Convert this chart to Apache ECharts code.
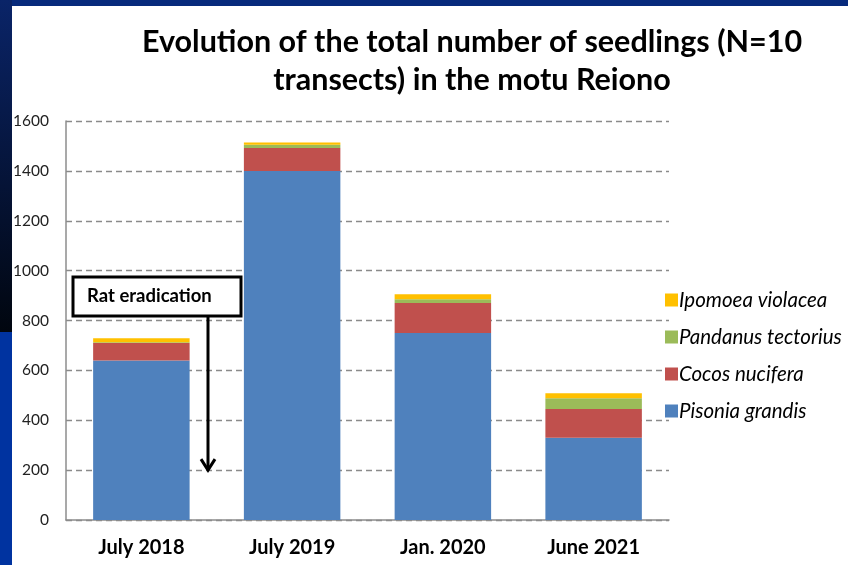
<!DOCTYPE html>
<html>
<head>
<meta charset="utf-8">
<script src="https://cdn.jsdelivr.net/npm/echarts@6/dist/echarts.min.js"></script>
<style>
  html, body { margin: 0; padding: 0; background: #ffffff; }
  #chart { width: 848px; height: 565px; }
</style>
</head>
<body>
<div id="chart"></div>
<script>
// Survey dates
const categories = ['July 2018', 'July 2019', 'Jan. 2020', 'June 2021'];

// Seedling counts per species (sum of 10 transects)
const pisoniaGrandis    = [640, 1400, 750, 330];
const cocosNucifera     = [70, 92, 120, 115];
const pandanusTectorius = [3, 13, 15, 43];
const ipomoeaViolacea   = [16, 9, 20, 20];

// Value axis ticks
const yTicks = [0, 200, 400, 600, 800, 1000, 1200, 1400, 1600];

const FONT = 'Lato, "Open Sans", sans-serif';

const chart = echarts.init(document.getElementById('chart'), null, { renderer: 'canvas' });

function stackSeries(name, data, color) {
  return {
    name: name,
    type: 'bar',
    stack: 'total',
    barWidth: '64%',
    data: data,
    itemStyle: { color: color },
    emphasis: { disabled: true }
  };
}

const option = {
  backgroundColor: '#ffffff',
  animation: false,
  title: {
    text: 'Evolution of the total number of seedlings (N=10\ntransects) in the motu Reiono',
    left: 467,
    top: 18,
    textAlign: 'center',
    textStyle: {
      fontFamily: FONT,
      fontWeight: 'bold',
      fontSize: 30.5,
      lineHeight: 38,
      color: '#000000'
    }
  },
  grid: { left: 66, right: 179, top: 121, bottom: 45, containLabel: false },
  legend: {
    orient: 'vertical',
    left: 660,
    top: 283,
    itemWidth: 13,
    itemHeight: 13,
    itemGap: 13,
    icon: 'rect',
    data: ['Ipomoea violacea', 'Pandanus tectorius', 'Cocos nucifera', 'Pisonia grandis'],
    textStyle: {
      fontFamily: FONT,
      fontStyle: 'italic',
      fontSize: 20.5,
      lineHeight: 24,
      color: '#000000',
      padding: [0, 0, 0, -4]
    }
  },
  xAxis: {
    type: 'category',
    data: categories,
    axisLine: { lineStyle: { color: '#8c8c8c', width: 1.5 } },
    axisTick: { show: false },
    axisLabel: {
      margin: 18,
      fontFamily: FONT,
      fontWeight: 'bold',
      fontSize: 20,
      color: '#000000'
    }
  },
  yAxis: {
    type: 'value',
    min: yTicks[0],
    max: yTicks[yTicks.length - 1],
    interval: yTicks[1] - yTicks[0],
    axisLine: { show: true, lineStyle: { color: '#8c8c8c', width: 1.5 } },
    axisTick: { show: false },
    axisLabel: {
      margin: 17,
      fontFamily: FONT,
      fontSize: 15.5,
      color: '#222222',
      formatter: function (v) { return String(v); }
    },
    splitLine: {
      show: true,
      lineStyle: { color: '#8a8a8a', type: [6, 4], width: 1.3 }
    }
  },
  series: [
    stackSeries('Pisonia grandis', pisoniaGrandis, '#4f81bd'),
    stackSeries('Cocos nucifera', cocosNucifera, '#c0504d'),
    stackSeries('Pandanus tectorius', pandanusTectorius, '#9bbb59'),
    stackSeries('Ipomoea violacea', ipomoeaViolacea, '#ffc000')
  ]
};

chart.setOption(option);

// Slide frame, annotation box and arrow pointing at the eradication date
const arrowX = 208;
const arrowTipY = chart.convertToPixel({ yAxisIndex: 0 }, 200);
const boxTop = 277, boxBottom = 316;

chart.setOption({
  graphic: [
    {
      type: 'rect', silent: true, z: -10,
      shape: { x: 0, y: 0, width: 848, height: 6 },
      style: { fill: '#072a7c' }
    },
    {
      type: 'rect', silent: true, z: -10,
      shape: { x: 0, y: 0, width: 12, height: 332 },
      style: {
        fill: new echarts.graphic.LinearGradient(0, 0, 0, 1, [
          { offset: 0, color: '#0a2468' },
          { offset: 1, color: '#01060f' }
        ])
      }
    },
    {
      type: 'rect', silent: true, z: -10,
      shape: { x: 0, y: 332, width: 12, height: 233 },
      style: { fill: '#0033a0' }
    },
    {
      type: 'rect', z: 20,
      shape: { x: 73, y: boxTop, width: 168, height: boxBottom - boxTop },
      style: { fill: '#ffffff', stroke: '#000000', lineWidth: 3 }
    },
    {
      type: 'text', z: 21,
      style: {
        x: 87, y: (boxTop + boxBottom) / 2,
        text: 'Rat eradication',
        verticalAlign: 'middle',
        font: 'bold 18.5px ' + FONT,
        fill: '#000000'
      }
    },
    {
      type: 'line', z: 20,
      shape: { x1: arrowX, y1: boxBottom, x2: arrowX, y2: arrowTipY },
      style: { stroke: '#000000', lineWidth: 3 }
    },
    {
      type: 'polyline', z: 20,
      shape: { points: [[arrowX - 7, arrowTipY - 11], [arrowX, arrowTipY], [arrowX + 7, arrowTipY - 11]] },
      style: { stroke: '#000000', lineWidth: 3, fill: null }
    }
  ]
});
</script>
</body>
</html>
